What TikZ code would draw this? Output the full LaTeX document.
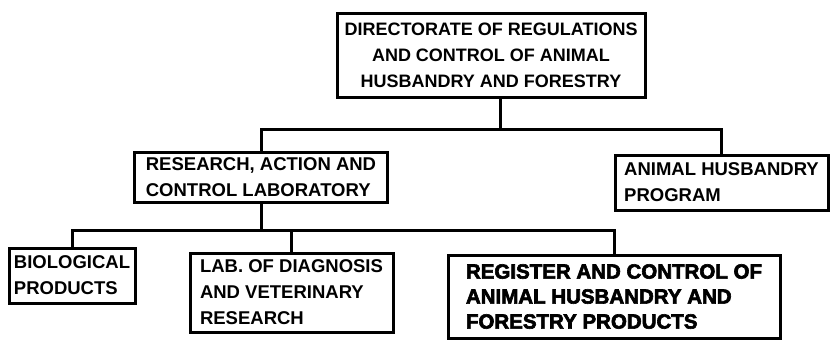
\documentclass[tikz,border=0pt]{standalone}
\usepackage{fontspec}
\setmainfont{Liberation Sans}
\newfontfamily\heavyfont{Liberation Sans}[BoldFeatures={FakeBold=3}]
\usetikzlibrary{positioning}

\begin{document}
\begin{tikzpicture}[x=1pt,y=-1pt,line width=3pt]
	\tikzstyle{org}=[draw, rectangle, line width=3pt, inner sep=0pt, align=left, font=\bfseries\fontsize{18.5}{26}\selectfont]
	\useasboundingbox (0,0) rectangle (837,341);
	\node[org, align=center, minimum width=308pt, minimum height=84pt, font=\bfseries\fontsize{18}{26}\selectfont] (dir) at (491,55)
		{DIRECTORATE OF REGULATIONS\\AND CONTROL OF ANIMAL\\HUSBANDRY AND FORESTRY};
	\node[org, minimum width=253pt, minimum height=50pt] (rcl) at (261,177)
		{RESEARCH, ACTION AND\\CONTROL LABORATORY};
	\node[org, minimum width=213pt, minimum height=55pt] (ahp) at (721.5,182.5)
		{ANIMAL HUSBANDRY\\PROGRAM};
	\node[org, minimum width=126pt, minimum height=55pt] (bio) at (72,275.5)
		{BIOLOGICAL\\PRODUCTS};
	\node[org, minimum width=203pt, minimum height=79pt] (lab) at (291.5,292.5)
		{LAB. OF DIAGNOSIS\\AND VETERINARY\\RESEARCH};
	\node[org, minimum width=332pt, minimum height=83pt, font=\heavyfont\bfseries\fontsize{20.5}{25}\selectfont] (reg) at (614,296.5)
		{REGISTER AND CONTROL OF\\ANIMAL HUSBANDRY AND\\FORESTRY PRODUCTS};
	% buses
	\coordinate (bus1) at (500,129);
	\coordinate (bus2) at (261,230);
	\draw (dir.south -| bus1) -- (bus1);
	\draw (rcl.north) |- (bus1) -| (ahp.north);
	\draw (rcl.south) -- (bus2);
	\draw (bio.north) |- (bus2) -| (reg.north);
	\draw (lab.north) -- (lab.north |- bus2);
\end{tikzpicture}
\end{document}
